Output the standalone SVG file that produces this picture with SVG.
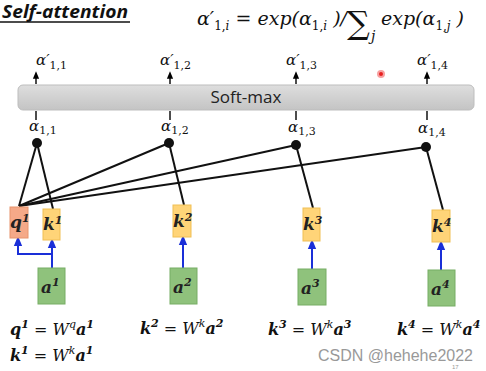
<svg xmlns="http://www.w3.org/2000/svg" width="486" height="371" viewBox="0 0 486 371">
<defs>
<linearGradient id="gbar" x1="0" y1="0" x2="0" y2="1">
<stop offset="0" stop-color="#dedede"/><stop offset="1" stop-color="#c4c4c4"/>
</linearGradient>
<marker id="ab" viewBox="0 0 6 6" refX="3" refY="3" markerWidth="5" markerHeight="5" orient="auto"><path d="M0,0.5 L6,3 L0,5.5 z" fill="#000"/></marker>
<marker id="ablue" viewBox="0 0 6 6" refX="3" refY="3" markerWidth="5" markerHeight="5" orient="auto"><path d="M0,0.5 L6,3 L0,5.5 z" fill="#1a2fd8"/></marker>
<style>
.m{font-family:"DejaVu Serif","Liberation Serif",serif;font-style:italic;fill:#111}
.lab{font-size:15px}
.sub{font-size:11px;font-style:normal}
.bx{font-family:"DejaVu Serif","Liberation Serif",serif;font-style:italic;font-weight:bold;font-size:17px;fill:#222}
.sup{font-size:11px}
.eq{font-family:"DejaVu Serif","Liberation Serif",serif;font-style:italic;font-size:16px;fill:#111}
.b{font-weight:bold}
.q{fill:#f5a988;stroke:#e8946c;stroke-width:1}
.k{fill:#ffd478;stroke:#f0bf55;stroke-width:1}
.a{fill:#8fc27c;stroke:#77ad65;stroke-width:1}
.blk{stroke:#111;stroke-width:2;fill:none}
.blu{stroke:#1a2fd8;stroke-width:2;fill:none}
</style>
</defs>
<rect width="486" height="371" fill="#fff"/>
<g id="title">
<text x="2" y="18" font-family="'Open Sans','Liberation Sans',sans-serif" font-size="18" font-weight="bold" font-style="italic" fill="#111" textLength="126" lengthAdjust="spacingAndGlyphs">Self-attention</text>
<line x1="0" y1="22" x2="130" y2="22" stroke="#111" stroke-width="1.5"/>
</g>
<g id="formula" class="m">
<text x="197" y="25" font-size="19">α′<tspan font-size="12" font-style="normal" dy="5">1,</tspan><tspan font-size="12">i</tspan><tspan dy="-5"> = exp(α</tspan><tspan font-size="12" font-style="normal" dy="5">1,</tspan><tspan font-size="12">i</tspan><tspan dy="-5"> )/</tspan></text>
<text x="347" y="34" font-size="32" font-style="normal">∑</text>
<text x="371" y="41" font-size="14">j</text>
<text x="381" y="25" font-size="19">exp(α<tspan font-size="12" font-style="normal" dy="5">1,</tspan><tspan font-size="12">j</tspan><tspan dy="-5"> )</tspan></text>
</g>
<g id="softmax">
<rect x="18" y="85" width="456" height="25" rx="5" fill="url(#gbar)" stroke="#bdbdbd"/>
<text x="246" y="103" text-anchor="middle" font-family="'Open Sans','Liberation Sans',sans-serif" font-size="17" fill="#222">Soft-max</text>
</g>
<g id="outputs" class="m lab">
<text x="36" y="65">α′<tspan class="sub" dy="4">1,1</tspan></text>
<text x="160" y="65">α′<tspan class="sub" dy="4">1,2</tspan></text>
<text x="286" y="65">α′<tspan class="sub" dy="4">1,3</tspan></text>
<text x="417" y="65">α′<tspan class="sub" dy="4">1,4</tspan></text>
</g>
<g id="scores" class="m lab">
<text x="29" y="131">α<tspan class="sub" dy="3">1,1</tspan></text>
<text x="161" y="131">α<tspan class="sub" dy="3">1,2</tspan></text>
<text x="288" y="132">α<tspan class="sub" dy="3">1,3</tspan></text>
<text x="418" y="133">α<tspan class="sub" dy="3">1,4</tspan></text>
</g>
<g id="connectors">
<g stroke="#111" stroke-width="1.5">
<line x1="36" y1="84" x2="36" y2="75" marker-end="url(#ab)"/>
<line x1="170" y1="84" x2="170" y2="75" marker-end="url(#ab)"/>
<line x1="296" y1="84" x2="296" y2="75" marker-end="url(#ab)"/>
<line x1="427" y1="84" x2="427" y2="75" marker-end="url(#ab)"/>
<line x1="36" y1="111" x2="36" y2="120"/>
<line x1="170" y1="111" x2="170" y2="120"/>
<line x1="296" y1="111" x2="296" y2="120"/>
<line x1="427" y1="111" x2="427" y2="120"/>
</g>
<g class="blk">
<line x1="19" y1="206" x2="37" y2="143"/>
<line x1="53" y1="209" x2="37" y2="143"/>
<line x1="19" y1="206" x2="169" y2="143"/>
<line x1="19" y1="206" x2="296" y2="145"/>
<line x1="19" y1="206" x2="426" y2="147"/>
<line x1="184" y1="205" x2="169" y2="143"/>
<line x1="313" y1="208" x2="296" y2="145"/>
<line x1="443" y1="210" x2="426" y2="147"/>
</g>
<g fill="#111">
<circle cx="37" cy="143" r="5"/>
<circle cx="169" cy="143" r="5"/>
<circle cx="296" cy="145" r="5"/>
<circle cx="426" cy="147" r="5"/>
</g>
<g class="blu">
<line x1="52" y1="268" x2="52" y2="243" marker-end="url(#ablue)"/>
<polyline points="52,254 18,254 18,241" marker-end="url(#ablue)"/>
<line x1="183" y1="268" x2="183" y2="240" marker-end="url(#ablue)"/>
<line x1="312" y1="269" x2="312" y2="244" marker-end="url(#ablue)"/>
<line x1="441" y1="270" x2="441" y2="245" marker-end="url(#ablue)"/>
</g>
</g>
<g id="q1"><rect class="q" x="10" y="207" width="18" height="31"/><text class="bx" x="10" y="228">q<tspan class="sup" dy="-6">1</tspan></text></g>
<g id="k1"><rect class="k" x="43" y="209" width="17" height="31"/><text class="bx" x="43" y="230">k<tspan class="sup" dy="-6">1</tspan></text></g>
<g id="k2"><rect class="k" x="173" y="205" width="18" height="32"/><text class="bx" x="173" y="227">k<tspan class="sup" dy="-6">2</tspan></text></g>
<g id="k3"><rect class="k" x="303" y="208" width="17" height="33"/><text class="bx" x="303" y="230">k<tspan class="sup" dy="-6">3</tspan></text></g>
<g id="k4"><rect class="k" x="432" y="210" width="18" height="32"/><text class="bx" x="432" y="232">k<tspan class="sup" dy="-6">4</tspan></text></g>
<g id="a1"><rect class="a" x="38" y="268" width="27" height="36"/><text class="bx" x="41" y="293">a<tspan class="sup" dy="-7">1</tspan></text></g>
<g id="a2"><rect class="a" x="170" y="268" width="27" height="36"/><text class="bx" x="173" y="293">a<tspan class="sup" dy="-7">2</tspan></text></g>
<g id="a3"><rect class="a" x="298" y="269" width="28" height="36"/><text class="bx" x="301" y="294">a<tspan class="sup" dy="-7">3</tspan></text></g>
<g id="a4"><rect class="a" x="428" y="270" width="27" height="36"/><text class="bx" x="431" y="295">a<tspan class="sup" dy="-7">4</tspan></text></g>
<g id="equations" class="eq">
<text x="10" y="335"><tspan class="b">q</tspan><tspan class="b sup" dy="-7">1</tspan><tspan dy="7"> = W</tspan><tspan class="sup" dy="-7">q</tspan><tspan class="b" dy="7">a</tspan><tspan class="b sup" dy="-7">1</tspan></text>
<text x="10" y="361"><tspan class="b">k</tspan><tspan class="b sup" dy="-7">1</tspan><tspan dy="7"> = W</tspan><tspan class="sup" dy="-7">k</tspan><tspan class="b" dy="7">a</tspan><tspan class="b sup" dy="-7">1</tspan></text>
<text x="140" y="334"><tspan class="b">k</tspan><tspan class="b sup" dy="-7">2</tspan><tspan dy="7"> = W</tspan><tspan class="sup" dy="-7">k</tspan><tspan class="b" dy="7">a</tspan><tspan class="b sup" dy="-7">2</tspan></text>
<text x="268" y="335"><tspan class="b">k</tspan><tspan class="b sup" dy="-7">3</tspan><tspan dy="7"> = W</tspan><tspan class="sup" dy="-7">k</tspan><tspan class="b" dy="7">a</tspan><tspan class="b sup" dy="-7">3</tspan></text>
<text x="397" y="335"><tspan class="b">k</tspan><tspan class="b sup" dy="-7">4</tspan><tspan dy="7"> = W</tspan><tspan class="sup" dy="-7">k</tspan><tspan class="b" dy="7">a</tspan><tspan class="b sup" dy="-7">4</tspan></text>
</g>
<circle cx="381" cy="74" r="3" fill="#e82020" stroke="#f7a0a0" stroke-width="2"/>
<text x="318" y="361" font-family="'Liberation Sans',sans-serif" font-size="16" fill="#999">CSDN @hehehe2022</text>
<text x="452" y="369" font-family="'Liberation Sans',sans-serif" font-size="6" fill="#999">17</text>
</svg>
